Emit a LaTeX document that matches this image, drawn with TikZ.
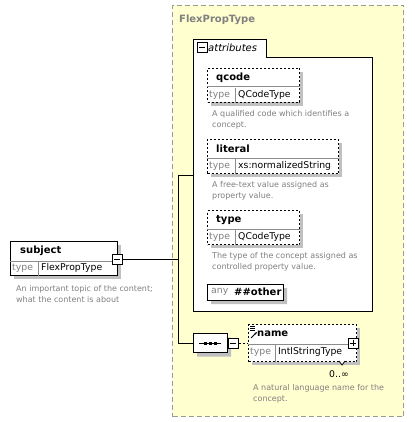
\documentclass[tikz,border=0pt]{standalone}
\usepackage{fontspec}
\setmainfont{DejaVu Sans}
\usetikzlibrary{positioning,calc,shapes.misc,arrows.meta}
\definecolor{grpfill}{HTML}{FFFFD0}
\definecolor{grpline}{HTML}{999999}
\definecolor{shadowgray}{HTML}{C0C0C0}
\definecolor{docgray}{HTML}{808080}
\definecolor{rulegray}{HTML}{8C8C8C}
\tikzset{
  group/.style     = {draw=grpline, fill=grpfill, dash pattern=on 5pt off 3pt, line width=1pt,
                      inner sep=0pt, anchor=north west},
  elem/.style      = {draw, fill=white, line width=1pt, inner sep=0pt, anchor=north west},
  optelem/.style   = {elem, dash pattern=on 2pt off 2pt},
  shadowbox/.style = {fill=shadowgray, inner sep=0pt, anchor=north west},
  comp/.style      = {chamfered rectangle, chamfered rectangle xsep=5pt, draw, fill=white,
                      line width=1pt, inner sep=0pt},
  divider/.style   = {draw=rulegray, line width=1pt},
  title/.style     = {font=\bfseries\fontsize{10}{12}\selectfont, anchor=west, inner sep=0pt},
  typelab/.style   = {font=\fontsize{9.3}{11}\selectfont, text=docgray, anchor=west, inner sep=0pt},
  typeval/.style   = {font=\fontsize{9.3}{11}\selectfont, anchor=west, inner sep=0pt},
  doc/.style       = {font=\fontsize{8}{11}\selectfont, text=docgray, align=left,
                      anchor=north west, inner sep=0pt},
  tog/.style       = {draw, fill=white, line width=1pt, minimum size=10pt, inner sep=0pt},
  minus/.style     = {tog, path picture={\draw ([xshift=2pt]path picture bounding box.west)
                      -- ([xshift=-2pt]path picture bounding box.east);}},
  plus/.style      = {tog, path picture={\draw ([xshift=2pt]path picture bounding box.west)
                      -- ([xshift=-2pt]path picture bounding box.east);
                      \draw ([yshift=-2pt]path picture bounding box.north)
                      -- ([yshift=2pt]path picture bounding box.south);}},
  conn/.style      = {line width=1pt},
}
\begin{document}
\begin{tikzpicture}[x=1pt,y=-1pt]
\useasboundingbox (0,0) rectangle (414,422);

% complex type
\node[group, minimum width=231pt, minimum height=411pt] (grp) at (172,5) {};
\node[title, text=docgray] (grptitle) at (179,20) {FlexPropType};

% subject element
\node[shadowbox, minimum width=107pt, minimum height=34pt] at (14,245) {};
\node[elem, minimum width=107pt, minimum height=34pt] (subj) at (10,241) {};
\draw[divider] ($(subj.north west)+(0,20)$) -- ($(subj.north east)+(0,20)$);
\draw[divider] ($(subj.south west)+(28,0)$) -- ($(subj.south west)+(28,-14)$);
\node[title] (subjname) at (20,251) {subject};
\node[typelab] at (12,268) {type};
\node[typeval] (subjtype) at (41,268) {FlexPropType};
\node[minus] (subjtog) at (117,259) {};
\node[doc] (subjdoc) at (16,285) {An important topic of the content;\\what the content is about};

% attribute group
\draw[fill=white, line width=1pt] (193,311) -- (193,40) -- (266,40) -- (266,58) -- (372,58)
  -- (372,311) -- cycle;
\node[inner sep=0pt, minimum width=179pt, minimum height=253pt, anchor=north west] (attrs) at (193,58) {};
\node[minus] (attrtog) at (202,48) {};
\node[anchor=west, inner sep=0pt, font=\itshape\fontsize{10}{12}\selectfont] at (208,48) {attributes};

% qcode
\node[shadowbox, minimum width=92pt, minimum height=34pt] at (211,72) {};
\node[optelem, minimum width=92pt, minimum height=34pt] (qcode) at (207,68) {};
\draw[divider] ($(qcode.north west)+(0,19)$) -- ($(qcode.north east)+(0,19)$);
\draw[divider] ($(qcode.south west)+(28,0)$) -- ($(qcode.south west)+(28,-15)$);
\node[title] at (216,78) {qcode};
\node[typelab] at (209,95) {type};
\node[typeval] at (238,95) {QCodeType};
\node[doc] at (212,110) {A qualified code which identifies a\\concept.};

% literal
\node[shadowbox, minimum width=131pt, minimum height=34pt] at (211,143) {};
\node[optelem, minimum width=131pt, minimum height=34pt] (literal) at (207,139) {};
\draw[divider] ($(literal.north west)+(0,19)$) -- ($(literal.north east)+(0,19)$);
\draw[divider] ($(literal.south west)+(28,0)$) -- ($(literal.south west)+(28,-15)$);
\node[title] at (216,149) {literal};
\node[typelab] at (209,166) {type};
\node[typeval] at (238,166) {xs:normalizedString};
\node[doc] at (212,181) {A free-text value assigned as\\property value.};

% type
\node[shadowbox, minimum width=92pt, minimum height=34pt] at (211,214) {};
\node[optelem, minimum width=92pt, minimum height=34pt] (typeattr) at (207,210) {};
\draw[divider] ($(typeattr.north west)+(0,19)$) -- ($(typeattr.north east)+(0,19)$);
\draw[divider] ($(typeattr.south west)+(28,0)$) -- ($(typeattr.south west)+(28,-15)$);
\node[title] at (216,220) {type};
\node[typelab] at (209,237) {type};
\node[typeval] at (238,237) {QCodeType};
\node[doc] at (212,252) {The type of the concept assigned as\\controlled property value.};

% any attribute
\node[comp, fill=shadowgray, draw=none, minimum width=76pt, minimum height=16pt, chamfered rectangle xsep=3pt] at (249,296) {};
\node[comp, minimum width=76pt, minimum height=16pt, chamfered rectangle xsep=3pt] (anyattr) at (245,292) {};
\node[typelab] at (211,292) {any};
\node[title] at (234,292) {\#\#other};

% sequence
\node[comp, fill=shadowgray, draw=none, minimum width=34pt, minimum height=19pt] at (214,347) {};
\node[comp, minimum width=34pt, minimum height=19pt] (seq) at (210,343) {};
\draw[line width=1pt] ($(seq.center)+(-11,0)$) -- ($(seq.center)+(11,0)$);
\foreach \dx in {-5,0,5}
  \fill ($(seq.center)+(\dx-1.5,-1.5)$) rectangle +(3,3);
\node[minus] (seqtog) at (233,343) {};

% name
\node[shadowbox, minimum width=108pt, minimum height=37pt] at (252,328) {};
\node[optelem, minimum width=108pt, minimum height=37pt] (name) at (248,324) {};
\draw[divider] ($(name.north west)+(0,20)$) -- ($(name.north east)+(0,20)$);
\draw[divider] ($(name.south west)+(27,0)$) -- ($(name.south west)+(27,-17)$);
\draw[fill=white, line width=0.8pt] (339,361) -- (342,365) -- (345,361);
\foreach \dy in {0,2,4}
  \draw[line width=0.8pt] (250,326+\dy) -- (255,326+\dy);
\draw[line width=1pt, -{Stealth[length=3pt]}] (251,338) -- (257,332);
\node[title] at (257,334) {name};
\node[typelab] at (250,352) {type};
\node[typeval] at (278,352) {IntlStringType};
\node[plus] (nametog) at (353,343) {};
\node[typeval, anchor=east] at (349,374) {0..∞};
\node[doc] at (253,384) {A natural language name for the\\concept.};

% connectors
\coordinate (jtop) at (178,175);
\coordinate (jbot) at (178,343);
\draw[conn] (subjtog.east) -- (subjtog.east -| jtop);
\draw[conn] (attrs.west |- jtop) -- (jtop) -- (jbot) -- (seq.west);
\draw[conn, dash pattern=on 2pt off 2pt] (seqtog.east) -- (name.west |- seqtog);

\end{tikzpicture}
\end{document}
